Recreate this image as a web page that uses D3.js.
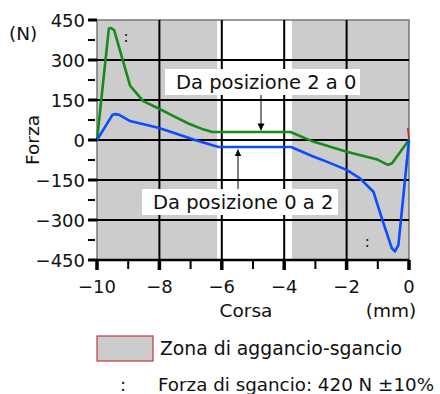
<!DOCTYPE html>
<html><head><meta charset="utf-8">
<script src="https://cdn.jsdelivr.net/npm/d3@7"></script>
<style>body{margin:0;background:#fff}svg{display:block}text{font-family:"DejaVu Sans",sans-serif;fill:#111}</style>
</head><body><svg id="c" width="440" height="394"></svg>
<script>
const xTicks = [-10, -8, -6, -4, -2, 0];
const xMinor = [-9, -7, -5, -3, -1];
const yTicks = [450, 300, 150, 0, -150, -300, -450];
const yMinor = [375, 225, 75, -75, -225, -375];
const zones = [[-10, -6.15], [-3.75, 0]];
// Da posizione 2 a 0 (green)
const greenX = [-10, -9.62, -9.55, -9.45, -8.94, -8.52, -8.04, -7.5, -7.07, -6.6, -6.3, -3.8, -3.07, -2.0, -1.04, -0.68, -0.55, 0];
const greenY = [0, 418, 420, 412, 204, 146, 119, 87, 62, 40, 30, 30, -6, -44, -72, -93, -88, 0];
// Da posizione 0 a 2 (blue)
const blueX = [-10, -9.5, -9.4, -9.3, -8.94, -8.04, -7.5, -6.86, -6.27, -6.1, -3.78, -3.07, -2.64, -2.0, -1.57, -1.14, -0.82, -0.55, -0.45, -0.34, 0];
const blueY = [0, 95, 97, 95, 71, 46, 25, 0, -21, -26, -26, -62, -81, -112, -144, -194, -312, -406, -418, -394, 0];
const redX = [-0.04, 0];
const redY = [45, 0];
const markers = [[-9.07, 366], [-1.34, -402]];

const svg = d3.select("#c");
const x = d3.scaleLinear().domain([-10, 0]).range([97, 409]);
const y = d3.scaleLinear().domain([-450, 450]).range([260, 20]);
const fmt = v => (v < 0 ? "\u2212" + Math.abs(v) : String(v));

// zones
svg.selectAll("rect.z").data(zones).join("rect")
  .attr("x", d => x(d[0])).attr("width", d => x(d[1]) - x(d[0]))
  .attr("y", y(450)).attr("height", y(-450) - y(450)).attr("fill", "#cccccc");
// frame
svg.append("rect").attr("x", x(-10)).attr("y", y(450)).attr("width", x(0) - x(-10)).attr("height", y(-450) - y(450))
  .attr("fill", "none").attr("stroke", "#777").attr("stroke-width", 1.5);
// grid
svg.selectAll("line.gx").data(xTicks.slice(1, -1)).join("line")
  .attr("x1", d => x(d)).attr("x2", d => x(d)).attr("y1", y(450)).attr("y2", y(-450))
  .attr("stroke", "#000").attr("stroke-width", 2);
svg.selectAll("line.gy").data(yTicks.slice(1, -1)).join("line")
  .attr("y1", d => y(d)).attr("y2", d => y(d)).attr("x1", x(-10)).attr("x2", x(0))
  .attr("stroke", "#000").attr("stroke-width", 2);
svg.append("line").attr("x1", x(-10)).attr("x2", x(0)).attr("y1", y(-450)).attr("y2", y(-450)).attr("stroke", "#000").attr("stroke-width", 2.5);

// labels boxes + arrows
function label(txt, bx, by, bw, bh, tx) {
  svg.append("rect").attr("x", bx).attr("y", by).attr("width", bw).attr("height", bh).attr("fill", "#fff");
  svg.append("text").attr("x", tx).attr("y", by + bh / 2 + 7).attr("font-size", 19.5).text(txt);
}
label("Da posizione 2 a 0", 165, 69, 195, 26, 176);
label("Da posizione 0 a 2", 142, 189, 196, 26, 153);
svg.append("defs").append("marker").attr("id", "ah").attr("viewBox", "0 0 10 10").attr("refX", 10).attr("refY", 5)
  .attr("markerWidth", 7).attr("markerHeight", 9).attr("markerUnits", "userSpaceOnUse").attr("orient", "auto")
  .append("path").attr("d", "M0,0L10,5L0,10Z").attr("fill", "#000");
svg.append("line").attr("x1", 261).attr("x2", 261).attr("y1", 95).attr("y2", y(32) - 1)
  .attr("stroke", "#000").attr("stroke-width", 1).attr("marker-end", "url(#ah)");
svg.append("line").attr("x1", 238).attr("x2", 238).attr("y1", 189).attr("y2", y(-28) + 2)
  .attr("stroke", "#000").attr("stroke-width", 1).attr("marker-end", "url(#ah)");

// curves
const line = d3.line().x(d => x(d[0])).y(d => y(d[1]));
svg.append("path").datum(greenX.map((v, i) => [v, greenY[i]])).attr("d", line)
  .attr("fill", "none").attr("stroke", "#168c16").attr("stroke-width", 2.6).attr("stroke-linejoin", "round");
svg.append("path").datum(blueX.map((v, i) => [v, blueY[i]])).attr("d", line)
  .attr("fill", "none").attr("stroke", "#0a4cff").attr("stroke-width", 2.6).attr("stroke-linejoin", "round");
svg.append("path").datum(redX.map((v, i) => [v, redY[i]])).attr("d", line)
  .attr("fill", "none").attr("stroke", "#c81e1e").attr("stroke-width", 1.5);
svg.selectAll("text.m").data(markers).join("text")
  .attr("x", d => x(d[0])).attr("y", d => y(d[1])).attr("text-anchor", "middle").attr("font-size", 15).text(":");

// y axis ticks
svg.selectAll("line.ty").data(yTicks).join("line")
  .attr("x1", 88).attr("x2", x(-10)).attr("y1", d => y(d)).attr("y2", d => y(d))
  .attr("stroke", "#000").attr("stroke-width", 3);
svg.selectAll("line.tym").data(yMinor).join("line")
  .attr("x1", 88).attr("x2", 95).attr("y1", d => y(d)).attr("y2", d => y(d))
  .attr("stroke", "#000").attr("stroke-width", 2);
svg.selectAll("text.ty").data(yTicks).join("text")
  .attr("x", 85).attr("y", d => y(d) + 6.5).attr("text-anchor", "end").attr("font-size", 18).text(fmt);
// x axis ticks
svg.selectAll("line.tx").data(xTicks).join("line")
  .attr("x1", d => x(d)).attr("x2", d => x(d)).attr("y1", y(-450)).attr("y2", 270)
  .attr("stroke", "#000").attr("stroke-width", 3.5);
svg.selectAll("line.txm").data(xMinor).join("line")
  .attr("x1", d => x(d)).attr("x2", d => x(d)).attr("y1", y(-450)).attr("y2", 269)
  .attr("stroke", "#000").attr("stroke-width", 2);
svg.selectAll("text.tx").data(xTicks).join("text")
  .attr("x", d => x(d)).attr("y", 293).attr("text-anchor", "middle").attr("font-size", 18).text(fmt);

// axis titles
svg.append("text").attr("transform", "translate(39,140) rotate(-90)").attr("text-anchor", "middle").attr("font-size", 18.5).text("Forza");
svg.append("text").attr("x", 9).attr("y", 40).attr("font-size", 18.5).text("(N)");
svg.append("text").attr("x", 246).attr("y", 317).attr("text-anchor", "middle").attr("font-size", 18.5).text("Corsa");
svg.append("text").attr("x", 391).attr("y", 317).attr("text-anchor", "middle").attr("font-size", 18.5).text("(mm)");

// legend
svg.append("rect").attr("x", 97).attr("y", 336).attr("width", 56).attr("height", 25)
  .attr("fill", "#cccccc").attr("stroke", "#c0393b").attr("stroke-width", 1.2);
svg.append("text").attr("x", 160).attr("y", 355).attr("font-size", 18.8).text("Zona di aggancio-sgancio");
svg.append("text").attr("x", 123).attr("y", 391).attr("text-anchor", "middle").attr("font-size", 18).text(":");
svg.append("text").attr("x", 158).attr("y", 391).attr("font-size", 18.3).text("Forza di sgancio: 420 N \u00b110%");
</script></body></html>
